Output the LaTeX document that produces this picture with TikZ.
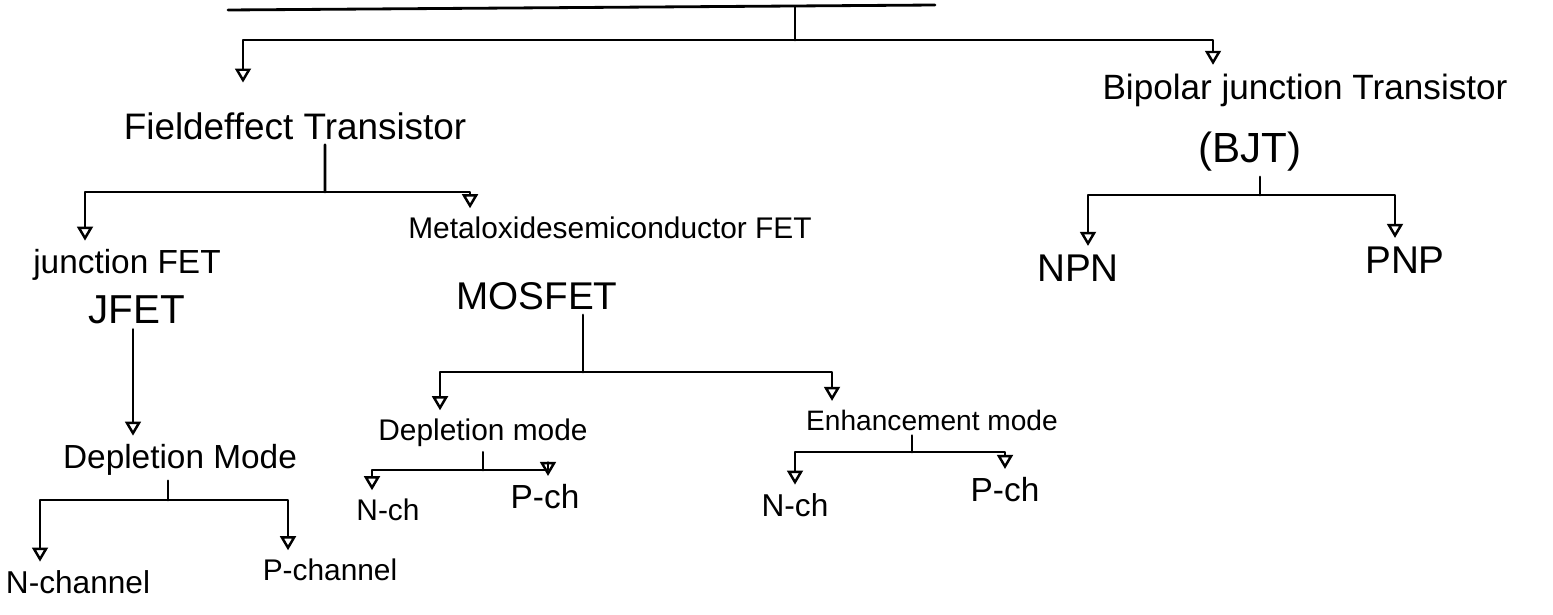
\documentclass[tikz,border=0pt]{standalone}
\usepackage{fontspec}
\setmainfont{Liberation Sans}
\usetikzlibrary{arrows.meta}
\tikzset{
  ln/.style={line width=1.6pt, black, line join=round, line cap=round},
  arr/.style={ln, -{Triangle[open, length=8pt, width=9pt, line width=1.4pt]}, shorten >=2pt},
  lbl/.style={inner sep=2pt, outer sep=1pt},
  fs/.style={font=\fontsize{#1}{#1}\selectfont}
}
\begin{document}
\begin{tikzpicture}[x={(0.02cm,0)}, y={(0,-0.02cm)}]
\useasboundingbox (0,0) rectangle (1553,615);

% labels
\node[lbl, fs=21] (fet)   at (295,126) {Fieldeffect Transistor};
\node[lbl, fs=20] (bjt)   at (1305,90) {Bipolar junction Transistor};
\node[lbl, fs=24] (bjtab) at (1250,152) {(BJT)};
\node[lbl, fs=19] (jfet1) at (127,265) {junction FET};
\node[lbl, fs=23] (jfet2) at (137,310) {JFET};
\node[lbl, fs=17] (mos1)  at (610,228) {Metaloxidesemiconductor FET};
\node[lbl, fs=22] (mos2)  at (537,296) {MOSFET};
\node[lbl, fs=19] (dep1)  at (180,460) {Depletion Mode};
\node[lbl, fs=18] (nch1)  at (78,582)  {N-channel};
\node[lbl, fs=17] (pch1)  at (330,570) {P-channel};
\node[lbl, fs=17] (dep2)  at (483,433) {Depletion mode};
\node[lbl, fs=17] (nch2)  at (388,510) {N-ch};
\node[lbl, fs=19] (pch2)  at (545,497) {P-ch};
\node[lbl, fs=16] (enh)   at (932,420) {Enhancement mode};
\node[lbl, fs=18] (nch3)  at (795,505) {N-ch};
\node[lbl, fs=19] (pch3)  at (1005,490) {P-ch};
\node[lbl, fs=22] (npn)   at (1078,268) {NPN};
\node[lbl, fs=22] (pnp)   at (1405,260) {PNP};

% root
\draw[ln] (228,10) -- (935,5);
\coordinate (root) at (795,7);
\coordinate (rj) at (795,40);
\draw[ln] (root) -- (rj);
\draw[arr, shorten >=14pt] (rj) -| ([xshift=-1.04cm]fet.north);
\draw[arr] (rj) -| ([xshift=-1.84cm]bjt.north);

% FET branch
\coordinate (fj) at (325,192);
\draw[ln] ([xshift=0.6cm]fet.south) -- (fj);
\draw[arr] (fj) -| ([xshift=-0.84cm]jfet1.north);
\draw[arr] (fj) -| ([xshift=-2.8cm]mos1.north);

% JFET
\draw[arr] ([xshift=-0.08cm]jfet2.south) -- ([xshift=-0.08cm]jfet2.south |- dep1.north);

% JFET depletion branch
\coordinate (dj1) at (168,500);
\draw[ln] (dep1.south -| dj1) -- (dj1);
\draw[arr] (dj1) -| ([xshift=-0.76cm]nch1.north);
\draw[arr] (dj1) -| ([xshift=-0.84cm]pch1.north);

% MOSFET branch
\coordinate (mj) at (583,372);
\draw[ln] (mos2.south -| mj) -- (mj);
\draw[arr] (mj) -| ([xshift=-0.86cm]dep2.north);
\draw[arr] (mj) -| ([xshift=-2cm]enh.north);

% MOSFET depletion branch
\coordinate (dj2) at (483,470);
\draw[ln] (dep2.south -| dj2) -- (dj2);
\draw[arr] (dj2) -| ([xshift=-0.32cm]nch2.north);
\draw[arr] (dj2) -| ([xshift=0.06cm]pch2.north);

% enhancement branch
\coordinate (ej) at (912,452);
\draw[ln] (enh.south -| ej) -- (ej);
\draw[arr] (ej) -| (nch3.north);
\draw[arr] (ej) -| (pch3.north);

% BJT branch
\coordinate (bj) at (1260,195);
\draw[ln] (bjtab.south -| bj) -- (bj);
\draw[arr] (bj) -| ([xshift=0.2cm]npn.north);
\draw[arr] (bj) -| ([xshift=-0.2cm]pnp.north);
\end{tikzpicture}
\end{document}
